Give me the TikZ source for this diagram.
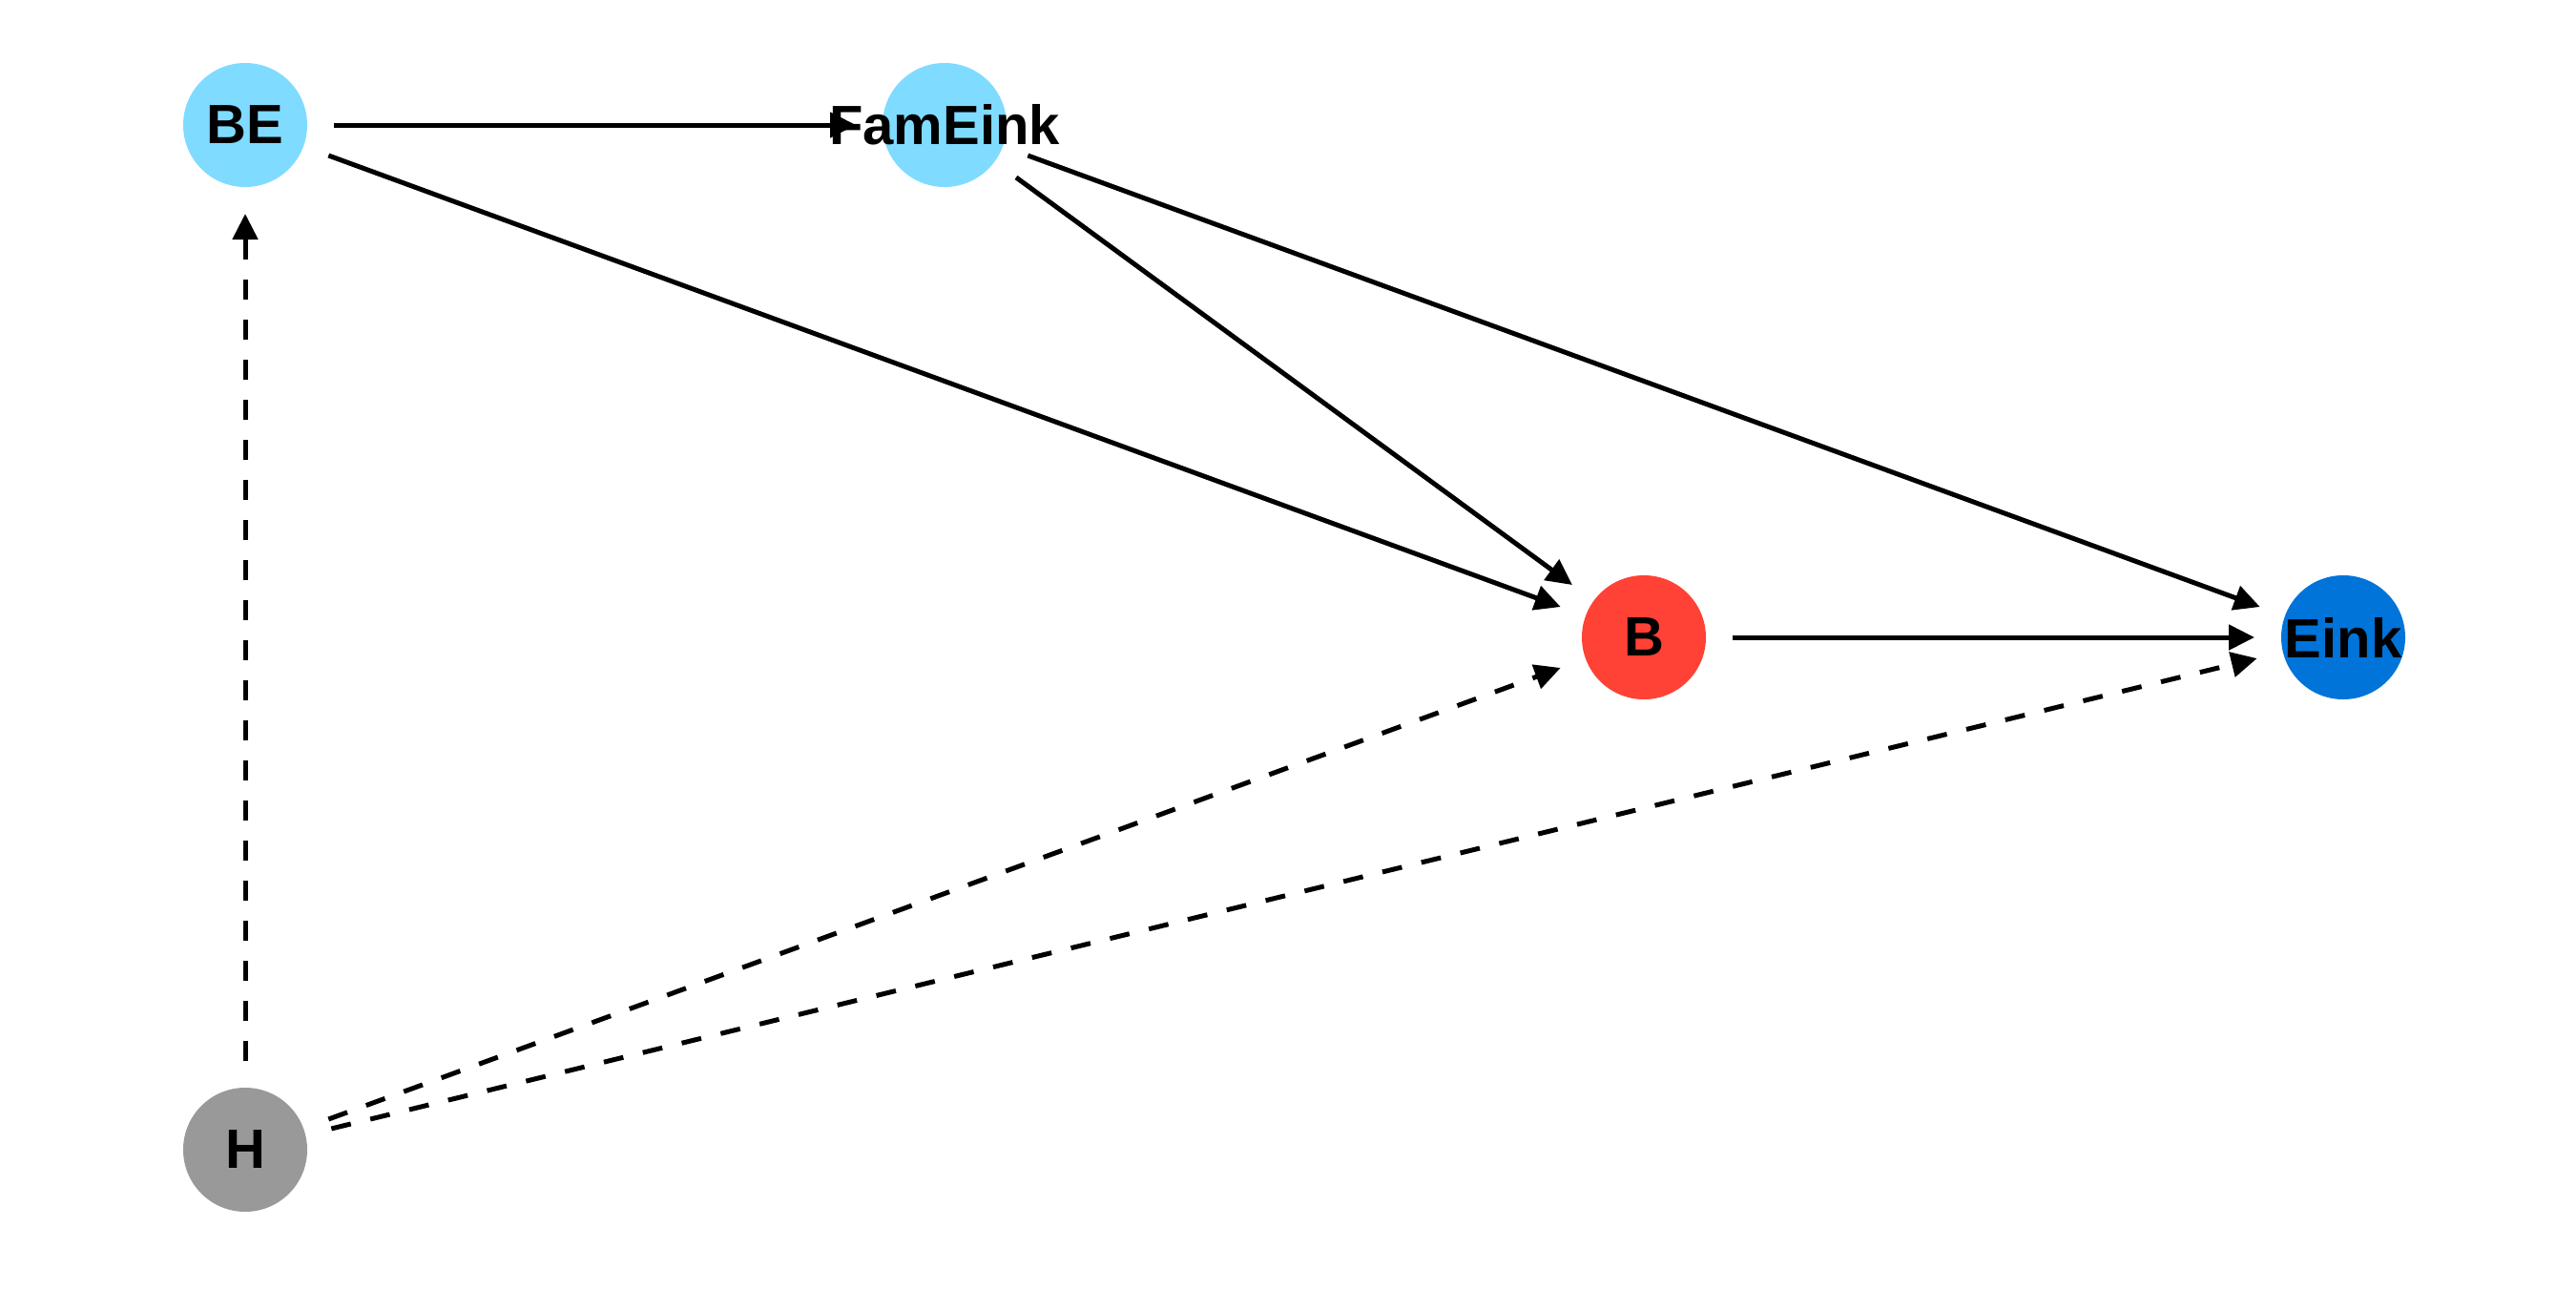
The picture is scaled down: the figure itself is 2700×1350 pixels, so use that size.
\documentclass[tikz,border=0pt]{standalone}
\usepackage{fontspec}
\setmainfont{Liberation Sans}
\usetikzlibrary{arrows.meta}
\definecolor{aquaC}{HTML}{7FDBFF}
\definecolor{redC}{HTML}{FF4136}
\definecolor{blueC}{HTML}{0074D9}
\definecolor{grayC}{HTML}{999999}
\tikzset{
  dagnode/.style={circle, minimum size=130pt, inner sep=0pt, outer sep=28pt},
  nlabel/.style={font=\fontsize{58}{60}\selectfont\bfseries},
  edge/.style={line width=5pt, -{Triangle[length=27pt,width=26pt]}},
  dedge/.style={edge, dash pattern=on 21pt off 21pt},
}
\begin{document}
\begin{tikzpicture}[x=1pt,y=-1pt]
\useasboundingbox (0,0) rectangle (2700,1350);
\fill[white] (0,0) rectangle (2700,1350);
\node[dagnode, fill=aquaC] (BE) at (257,131) {};
\node[dagnode, fill=aquaC] (F) at (990,131) {};
\node[dagnode, fill=redC] (B) at (1723,668) {};
\node[dagnode, fill=blueC] (E) at (2456,668) {};
\node[dagnode, fill=grayC] (H) at (257,1205) {};
\draw[edge] (BE) -- (F);
\draw[edge] (BE) -- (B);
\draw[edge] (F) -- (B);
\draw[edge] (F) -- (E);
\draw[edge] (B) -- (E);
\draw[dedge] (H) -- (BE);
\draw[dedge] (H) -- (B);
\draw[dedge] (H) -- (E);
\node[nlabel] (tBE) at (BE.center) {BE};
\node[nlabel] (tF) at (F.center) {FamEink};
\node[nlabel] (tB) at (B.center) {B};
\node[nlabel] (tE) at (E.center) {Eink};
\node[nlabel] (tH) at (H.center) {H};
\end{tikzpicture}
\end{document}
